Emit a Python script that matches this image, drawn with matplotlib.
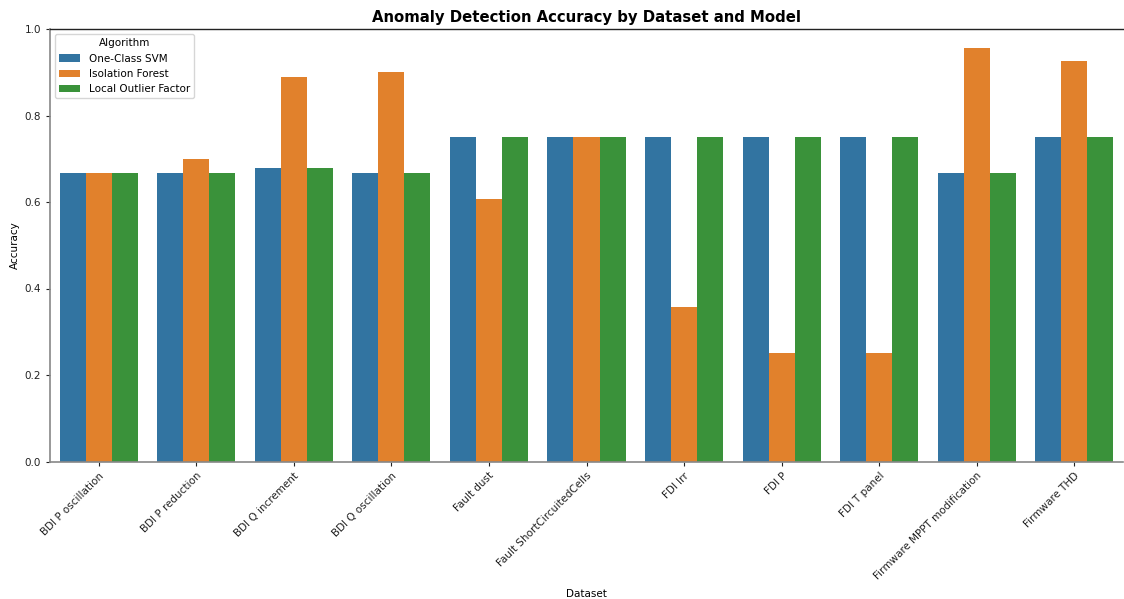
import matplotlib
matplotlib.use("Agg")
import matplotlib.pyplot as plt
import pandas as pd
import seaborn as sns

datasets = [
    "BDI P oscillation", "BDI P reduction", "BDI Q increment", "BDI Q oscillation",
    "Fault dust", "Fault ShortCircuitedCells", "FDI Irr", "FDI P", "FDI T panel",
    "Firmware MPPT modification", "Firmware THD",
]
algorithms = ["One-Class SVM", "Isolation Forest", "Local Outlier Factor"]
ocsvm_acc = [0.667, 0.667, 0.678, 0.667, 0.75, 0.75, 0.75, 0.75, 0.75, 0.667, 0.75]
iforest_acc = [0.667, 0.70, 0.89, 0.90, 0.608, 0.75, 0.358, 0.25, 0.25, 0.955, 0.925]
lof_acc = [0.667, 0.667, 0.678, 0.667, 0.75, 0.75, 0.75, 0.75, 0.75, 0.667, 0.75]

rows = []
for alg, vals in zip(algorithms, [ocsvm_acc, iforest_acc, lof_acc]):
    for ds, v in zip(datasets, vals):
        rows.append({"Dataset": ds, "Algorithm": alg, "Accuracy": v})
df = pd.DataFrame(rows)

fig = plt.figure(figsize=(11.24, 5.99), dpi=100)
ax = fig.add_axes([50 / 1124, 1 - 461.5 / 599, 1073 / 1124, 432.5 / 599])
sns.barplot(data=df, x="Dataset", y="Accuracy", hue="Algorithm",
            order=datasets, hue_order=algorithms, ax=ax)

ax.set_ylim(0, 1.0)
ax.set_title("Anomaly Detection Accuracy by Dataset and Model",
             fontsize=10.7, fontweight="bold", pad=5)
ax.set_xlabel("Dataset", fontsize=7.5, labelpad=5)
ax.set_ylabel("Accuracy", fontsize=7.5, labelpad=3)
ax.tick_params(axis="both", labelsize=7.5, colors="#222222", length=3, width=0.8)
plt.setp(ax.get_xticklabels(), rotation=45, ha="right", rotation_mode="anchor")
for side in ("left", "bottom"):
    ax.spines[side].set_color("#888888")
    ax.spines[side].set_linewidth(1.2)
ax.spines["top"].set_color("#222222")
ax.spines["top"].set_linewidth(1.0)
ax.spines["right"].set_visible(False)

leg = ax.legend(title="Algorithm", loc="upper left", fontsize=7.5, title_fontsize=7.5)

fig.savefig("out.png", dpi=100)
